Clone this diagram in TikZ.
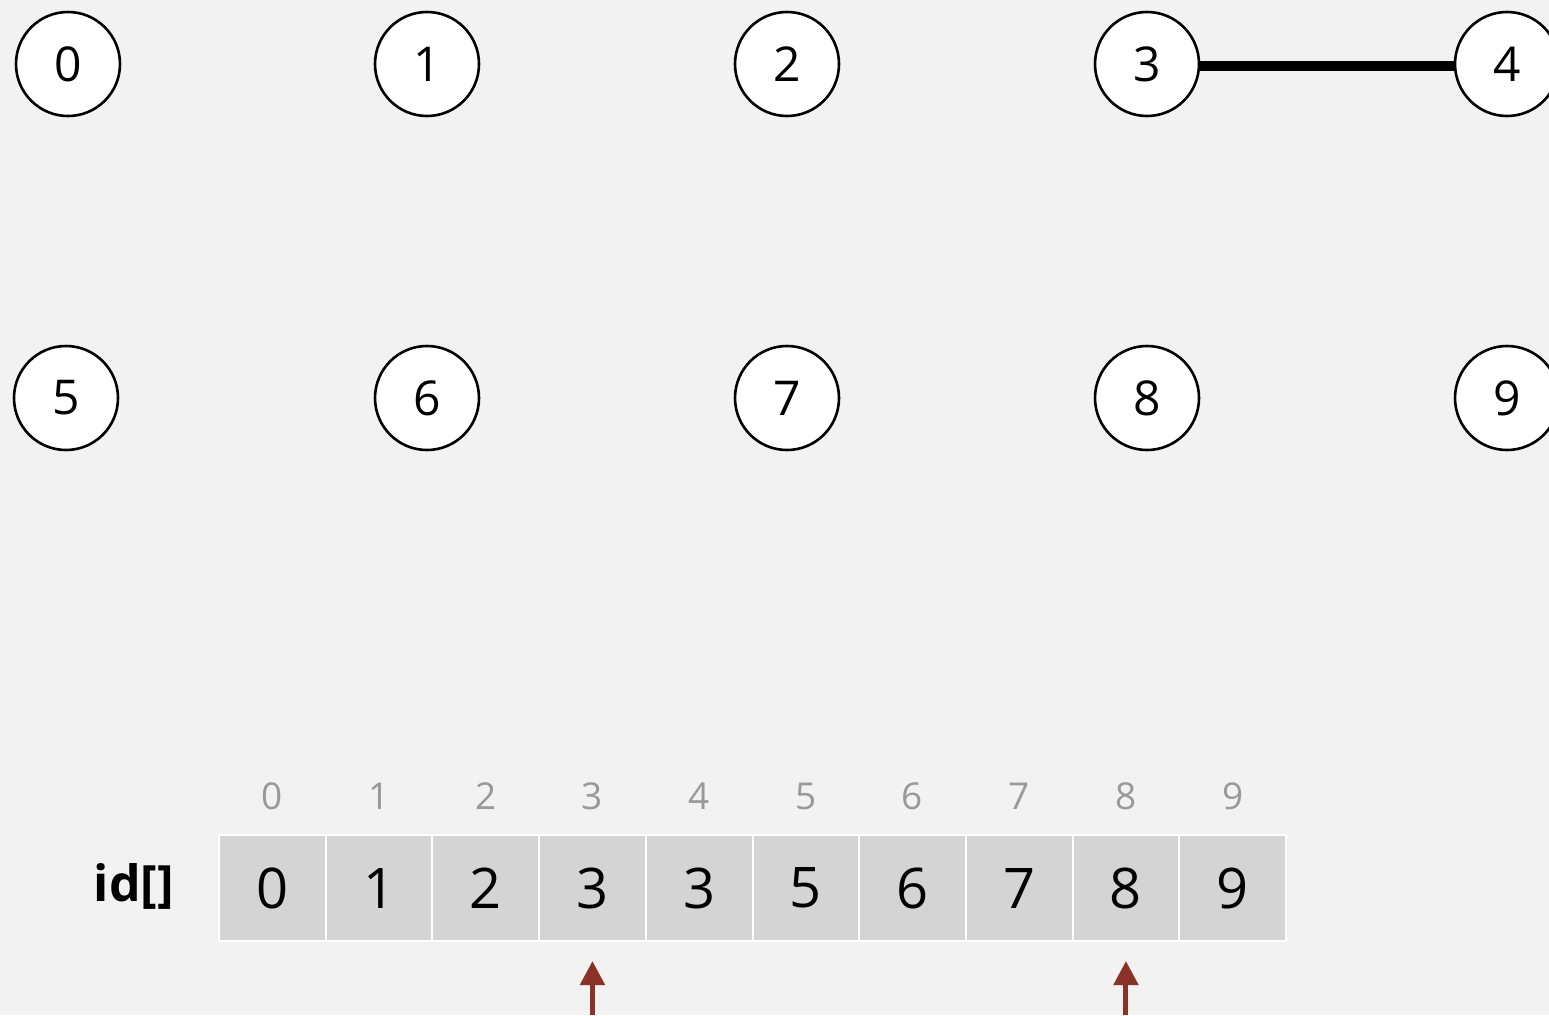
\documentclass[tikz,border=0pt]{standalone}
\usepackage{fontspec}
\setmainfont{Open Sans}
\usetikzlibrary{arrows.meta}
\definecolor{bg}{HTML}{F2F2F2}
\definecolor{cellfill}{HTML}{D4D4D4}
\definecolor{idxgray}{HTML}{999999}
\definecolor{arrred}{HTML}{8B3226}
\begin{document}
\begin{tikzpicture}[x=1pt,y=-1pt,
  vert/.style={circle,draw=black,line width=2.6pt,fill=white,minimum size=104pt,inner sep=0pt,font=\fontsize{48}{48}\selectfont},
  cell/.style={rectangle,draw=white,line width=2pt,fill=cellfill,minimum width=106.7pt,minimum height=106pt,inner sep=0pt,font=\fontsize{56}{56}\selectfont},
  idx/.style={text=idxgray,font=\fontsize{37}{37}\selectfont},
  edge/.style={line width=9.5pt},
  ptr/.style={draw=arrred,line width=5pt,-{Triangle[length=24pt,width=24pt]}}
]
\useasboundingbox (0,0) rectangle (1549,1015);
\clip (0,0) rectangle (1549,1015);
\fill[bg] (0,0) rectangle (1549,1015);
% vertices
\node[vert] (v0) at (68,64) {0};
\node[vert] (v1) at (427,64) {1};
\node[vert] (v2) at (787,64) {2};
\node[vert] (v3) at (1147,64) {3};
\node[vert] (v4) at (1507,64) {4};
\node[vert] (v5) at (66,398) {5};
\node[vert] (v6) at (427,398) {6};
\node[vert] (v7) at (787,398) {7};
\node[vert] (v8) at (1147,398) {8};
\node[vert] (v9) at (1507,398) {9};
\draw[edge] (v3.east |- 0,66) -- (v4.west |- 0,66);
% array
\node[font=\fontsize{50}{50}\selectfont\bfseries] (lbl) at (134,886) {id[]};
\foreach \i/\v in {0/0,1/1,2/2,3/3,4/3,5/5,6/6,7/7,8/8,9/9}{
  \node[cell] (c\i) at ({219+106.7*(\i+0.5)},888) {\v};
  \node[idx] (i\i) at ({219+106.7*(\i+0.5)},796) {\i};
}
\coordinate (p3) at (c3.center |- 0,1015);
\coordinate (p8) at (c8.center |- 0,1015);
\draw[ptr] (p3) -- ++(0,-54);
\draw[ptr] (p8) -- ++(0,-54);
\end{tikzpicture}
\end{document}
